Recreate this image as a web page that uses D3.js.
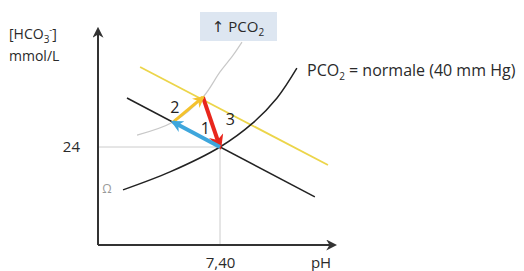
<!DOCTYPE html>
<html>
<head>
<meta charset="utf-8">
<script src="https://cdn.jsdelivr.net/npm/d3@7"></script>
<style>
  body { margin: 0; background: #fff; }
  text { font-family: "Open Sans", "DejaVu Sans", sans-serif; fill: #2a2a2a; }
</style>
</head>
<body>
<div id="chart"></div>
<script>
// values (pH, HCO3- mmol/L)
const isobarNormal = [[7.082, 13.5], [7.236, 17.9], [7.40, 24], [7.508, 29.9], [7.587, 36.0], [7.652, 43.3]];
const isobarHigh = [[7.128, 26.9], [7.246, 30.1], [7.344, 36.2], [7.40, 42.4], [7.443, 46.5], [7.472, 49.7]];
const bufferLine = [[7.095, 36.0], [7.711, 11.8]];
const bufferLineHigh = [[7.138, 43.6], [7.754, 19.6]];
const arrows = [
  { from: [7.344, 36.2], to: [7.40, 24], color: '#e8261c', w: 4 },
  { from: [7.246, 30.1], to: [7.344, 36.2], color: '#f4c22e', w: 3 },
  { from: [7.40, 24], to: [7.246, 30.1], color: '#3ea6dc', w: 4 }
];
const stepLabels = [['2', 7.252, 33.9], ['1', 7.352, 28.7], ['3', 7.434, 30.8]];
const xTicks = [7.40];
const yTicks = [24];
const normalPt = [7.40, 24];

const width = 524, height = 271;
const svg = d3.select('#chart').append('svg')
  .attr('width', width).attr('height', height);

const x = d3.scaleLinear().domain([7.0, 7.8]).range([98, 342]);
const y = d3.scaleLinear().domain([0, 48]).range([245, 49]);

const defs = svg.append('defs');
function marker(id, color, size) {
  defs.append('marker')
    .attr('id', id).attr('viewBox', '0 0 10 10')
    .attr('refX', 8).attr('refY', 5)
    .attr('markerWidth', size).attr('markerHeight', size)
    .attr('markerUnits', 'userSpaceOnUse')
    .attr('orient', 'auto')
    .append('path').attr('d', 'M0,0 L10,5 L0,10 L3,5 Z').attr('fill', color);
}
marker('ax', '#333', 11);
arrows.forEach((a, i) => marker('m' + i, a.color, i == 0 ? 15 : 12));

// guide lines to the normal point
svg.append('line')
  .attr('x1', x(7.0)).attr('x2', x(normalPt[0]))
  .attr('y1', y(normalPt[1])).attr('y2', y(normalPt[1]))
  .attr('stroke', '#ccc').attr('stroke-width', 1);
svg.append('line')
  .attr('x1', x(normalPt[0])).attr('x2', x(normalPt[0]))
  .attr('y1', y(normalPt[1])).attr('y2', y(0))
  .attr('stroke', '#ccc').attr('stroke-width', 1);

const line = d3.line().x(d => x(d[0])).y(d => y(d[1]));
const curve = d3.line().x(d => x(d[0])).y(d => y(d[1])).curve(d3.curveCatmullRom);

svg.append('path').attr('d', curve(isobarHigh))
  .attr('fill', 'none').attr('stroke', '#c8c8c8').attr('stroke-width', 1.2);
svg.append('path').attr('d', line(bufferLineHigh))
  .attr('fill', 'none').attr('stroke', '#ecd54a').attr('stroke-width', 1.8);
svg.append('path').attr('d', line(bufferLine))
  .attr('fill', 'none').attr('stroke', '#222').attr('stroke-width', 1.5);
svg.append('path').attr('d', curve(isobarNormal))
  .attr('fill', 'none').attr('stroke', '#222').attr('stroke-width', 1.5);

arrows.forEach((a, i) => {
  svg.append('line')
    .attr('x1', x(a.from[0])).attr('y1', y(a.from[1]))
    .attr('x2', x(a.to[0])).attr('y2', y(a.to[1]))
    .attr('stroke', a.color).attr('stroke-width', a.w)
    .attr('marker-end', 'url(#m' + i + ')');
});

svg.selectAll('.step').data(stepLabels).enter().append('text')
  .attr('x', d => x(d[1])).attr('y', d => y(d[2]))
  .attr('text-anchor', 'middle').attr('dominant-baseline', 'central')
  .style('font-size', '16px').style('fill', '#222')
  .text(d => d[0]);

// axes
svg.append('line')
  .attr('x1', x(7.0)).attr('y1', y(0)).attr('x2', x(7.0)).attr('y2', 29)
  .attr('stroke', '#333').attr('stroke-width', 2).attr('marker-end', 'url(#ax)');
svg.append('line')
  .attr('x1', x(7.0)).attr('y1', y(0)).attr('x2', 335).attr('y2', y(0))
  .attr('stroke', '#333').attr('stroke-width', 2).attr('marker-end', 'url(#ax)');

const xAxis = svg.append('g').attr('transform', 'translate(0,' + y(0) + ')')
  .call(d3.axisBottom(x).tickValues(xTicks).tickSize(0).tickPadding(12)
    .tickFormat(d => d3.format('.2f')(d).replace('.', ',')));
const yAxis = svg.append('g').attr('transform', 'translate(' + x(7.0) + ',0)')
  .call(d3.axisLeft(y).tickValues(yTicks).tickSize(0).tickPadding(18));
[xAxis, yAxis].forEach(g => {
  g.select('.domain').remove();
  g.selectAll('text').style('font-size', '15px').style('fill', '#2a2a2a')
    .style('font-family', '"Open Sans", "DejaVu Sans", sans-serif');
});

svg.append('text').attr('x', 321).attr('y', 268).attr('text-anchor', 'middle')
  .style('font-size', '15px').text('pH');

const yl = svg.append('text').attr('x', 9).attr('y', 39).style('font-size', '14px');
yl.append('tspan').text('[HCO');
yl.append('tspan').attr('dy', 4).style('font-size', '10px').text('3');
yl.append('tspan').attr('dy', -10).style('font-size', '9px').text('-');
yl.append('tspan').attr('dy', 6).text(']');
svg.append('text').attr('x', 9).attr('y', 61).style('font-size', '14px').text('mmol/L');

svg.append('text').attr('x', 107).attr('y', 193).attr('text-anchor', 'middle')
  .style('font-size', '12px').style('fill', '#999').text('Ω');

// high PCO2 box
svg.append('rect').attr('x', 200).attr('y', 12).attr('width', 77).attr('height', 29)
  .attr('fill', '#dde6f1');
const bt = svg.append('text').attr('x', 238).attr('y', 32).attr('text-anchor', 'middle')
  .style('font-size', '15px');
bt.append('tspan').text('↑ PCO');
bt.append('tspan').attr('dy', 4).style('font-size', '10px').text('2');

const nl = svg.append('text').attr('x', 307).attr('y', 76).style('font-size', '16px');
nl.append('tspan').text('PCO');
nl.append('tspan').attr('dy', 4).style('font-size', '10px').text('2');
nl.append('tspan').attr('dy', -4).text(' = normale (40 mm Hg)');
</script>
</body>
</html>
